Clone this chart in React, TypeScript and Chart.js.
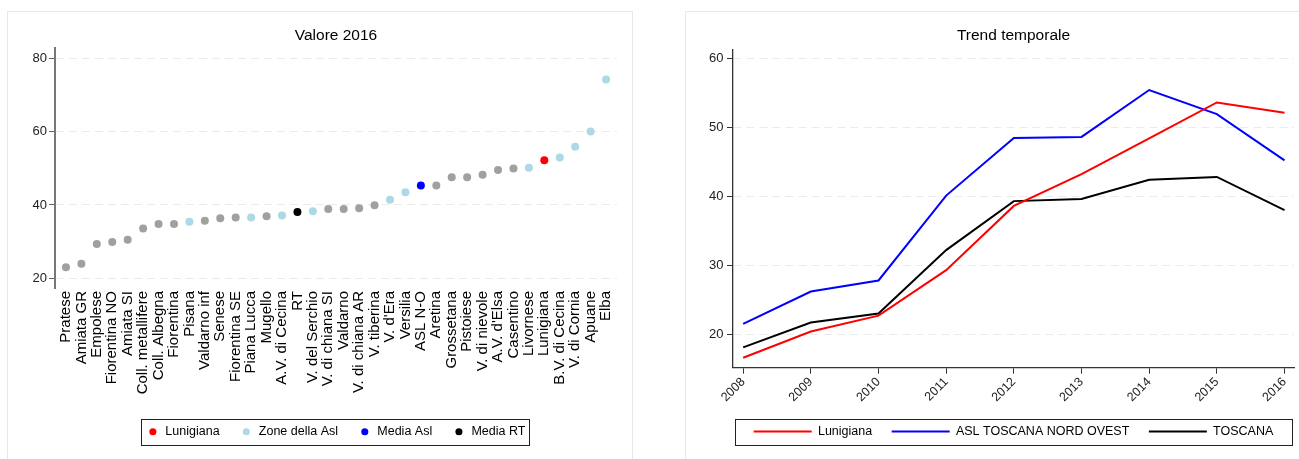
import React, { useEffect, useRef } from "react";
import { Chart, registerables } from "chart.js";

Chart.register(...registerables);
Chart.defaults.font.family = "'Liberation Sans', Arial, Helvetica, sans-serif";

// ---------- Left chart data: Valore 2016 ----------
const CATEGORIES = [
  "Pratese", "Amiata GR", "Empolese", "Fiorentina NO", "Amiata SI",
  "Coll. metallifere", "Coll. Albegna", "Fiorentina", "Pisana", "Valdarno inf",
  "Senese", "Fiorentina SE", "Piana Lucca", "Mugello", "A.V. di Cecina",
  "RT", "V. del Serchio", "V. di chiana SI", "Valdarno", "V. di chiana AR",
  "V. tiberina", "V. d'Era", "Versilia", "ASL N-O", "Aretina",
  "Grossetana", "Pistoiese", "V. di nievole", "A.V. d'Elsa", "Casentino",
  "Livornese", "Lunigiana", "B.V. di Cecina", "V. di Cornia", "Apuane", "Elba",
];
const VALUES_2016 = [
  23.0, 23.9, 29.3, 29.9, 30.5,
  33.6, 34.8, 34.8, 35.4, 35.7,
  36.4, 36.6, 36.6, 36.9, 37.1,
  38.1, 38.3, 38.9, 38.9, 39.1,
  39.9, 41.4, 43.5, 45.3, 45.3,
  47.6, 47.6, 48.3, 49.6, 50.0,
  50.2, 52.2, 53.0, 55.9, 60.1, 74.3,
];
const ASL_ZONES = [
  "Pisana", "Piana Lucca", "A.V. di Cecina", "V. del Serchio", "V. d'Era",
  "Versilia", "Livornese", "B.V. di Cecina", "V. di Cornia", "Apuane", "Elba",
];
const HIGHLIGHT_ZONE = "Lunigiana";
const MEDIA_ASL = "ASL N-O";
const MEDIA_RT = "RT";
const LEFT_Y_TICKS = [20, 40, 60, 80];

// ---------- Right chart data: Trend temporale ----------
const YEARS = [2008, 2009, 2010, 2011, 2012, 2013, 2014, 2015, 2016];
const TREND_LUNIGIANA = [16.6, 20.4, 22.7, 29.3, 38.6, 43.2, 48.4, 53.6, 52.1];
const TREND_ASL = [21.5, 26.2, 27.8, 40.1, 48.45, 48.6, 55.4, 51.9, 45.2];
const TREND_TOSCANA = [18.1, 21.7, 23.0, 32.2, 39.3, 39.6, 42.4, 42.8, 38.0];
const RIGHT_Y_TICKS = [20, 30, 40, 50, 60];

const legendFrame = {
  id: "legendFrame",
  afterDraw(chart: any, _args: any, opts: any) {
    const lg: any = chart.legend;
    if (!lg || !lg.legendHitBoxes || !lg.legendHitBoxes.length) return;
    const hb = lg.legendHitBoxes;
    const first = hb[0];
    const last = hb[hb.length - 1];
    const cy = first.top + first.height / 2;
    const x0 = Math.round(first.left - opts.padLeft) + 0.5;
    const x1 = Math.round(last.left + last.width + opts.padRight) + 0.5;
    const y0 = Math.round(cy - opts.halfHeight) + 0.5;
    const y1 = Math.round(cy + opts.halfHeight) + 0.5;
    const ctx = chart.ctx;
    ctx.save();
    ctx.strokeStyle = "#222";
    ctx.lineWidth = 1;
    ctx.strokeRect(x0, y0, x1 - x0, y1 - y0);
    ctx.restore();
  },
};

function groupPoints(pred: (name: string) => boolean) {
  return CATEGORIES.map((c, i) => ({ c, i }))
    .filter(({ c }) => pred(c))
    .map(({ i }) => ({ x: i, y: VALUES_2016[i] }));
}

function LeftChart() {
  const ref = useRef<HTMLCanvasElement>(null);
  useEffect(() => {
    const special = new Set([HIGHLIGHT_ZONE, MEDIA_ASL, MEDIA_RT, ...ASL_ZONES]);
    const mk = (label: string, color: string, data: any[]) => ({
      label,
      data,
      backgroundColor: color,
      borderColor: color,
      pointRadius: 4,
      pointBorderWidth: 0,
      borderWidth: 0,
      pointStyle: "circle",
    });
    const chart = new Chart(ref.current!, {
      type: "scatter",
      data: {
        datasets: [
          mk("Altre zone", "#a0a0a0", groupPoints((c) => !special.has(c))),
          mk("Lunigiana", "#ff0000", groupPoints((c) => c === HIGHLIGHT_ZONE)),
          mk("Zone della Asl", "#add8e6", groupPoints((c) => ASL_ZONES.includes(c))),
          mk("Media Asl", "#0000ff", groupPoints((c) => c === MEDIA_ASL)),
          mk("Media RT", "#000000", groupPoints((c) => c === MEDIA_RT)),
        ],
      },
      options: {
        responsive: false,
        animation: false,
        events: [],
        layout: { padding: { left: 0, right: 14, top: 0, bottom: 11 } },
        plugins: {
          tooltip: { enabled: false },
          title: {
            display: true,
            text: "Valore 2016",
            fullSize: false,
            color: "#000",
            font: { size: 15.5, weight: "normal" },
            padding: { top: 14.5, bottom: 3 },
          },
          legend: {
            position: "bottom",
            fullSize: false,
            labels: {
              usePointStyle: true,
              boxWidth: 13,
              boxHeight: 5,
              padding: 20.5,
              color: "#000",
              font: { size: 12.5 },
              filter: (item: any) => item.text !== "Altre zone",
            },
          },
          legendFrame: { padLeft: 5.5, padRight: 4, halfHeight: 13 },
        } as any,
        scales: {
          x: {
            type: "linear",
            min: -0.71,
            max: 35.71,
            bounds: "data",
            afterBuildTicks: (s: any) => {
              s.ticks = CATEGORIES.map((_, i) => ({ value: i }));
            },
            afterFit: (s: any) => {
              s.height = 117;
            },
            grid: { display: false, drawTicks: false },
            border: { display: false },
            ticks: {
              autoSkip: false,
              minRotation: 90,
              maxRotation: 90,
              padding: 3,
              color: "#000",
              font: { size: 15 },
              callback: (v: any) => CATEGORIES[v],
            },
          },
          y: {
            type: "linear",
            min: 17.3,
            max: 82.9,
            bounds: "data",
            afterBuildTicks: (s: any) => {
              s.ticks = LEFT_Y_TICKS.map((v) => ({ value: v }));
            },
            afterFit: (s: any) => {
              s.width = 47;
            },
            grid: {
              color: "#ebebeb",
              lineWidth: 1,
              tickColor: "#666",
              tickLength: 6,
              tickWidth: 1,
              tickBorderDash: [],
            },
            border: { display: true, color: "#777", width: 2, dash: [8, 5] },
            ticks: { padding: 2, color: "#222", font: { size: 13 } },
          },
        },
      },
      plugins: [legendFrame as any],
    } as any);
    return () => chart.destroy();
  }, []);
  return <canvas ref={ref} width={623} height={447} style={{ display: "block" }} />;
}

function RightChart() {
  const ref = useRef<HTMLCanvasElement>(null);
  useEffect(() => {
    const mk = (label: string, color: string, vals: number[]) => ({
      label,
      data: YEARS.map((y, i) => ({ x: y, y: vals[i] })),
      borderColor: color,
      backgroundColor: color,
      borderWidth: 2,
      pointRadius: 0,
      tension: 0,
      fill: false,
    });
    const chart = new Chart(ref.current!, {
      type: "line",
      data: {
        datasets: [
          mk("Lunigiana", "#ff0000", TREND_LUNIGIANA),
          mk("ASL TOSCANA NORD OVEST", "#0000ff", TREND_ASL),
          mk("TOSCANA", "#000000", TREND_TOSCANA),
        ],
      },
      options: {
        responsive: false,
        animation: false,
        events: [],
        layout: { padding: { left: 0, right: 5, top: 0, bottom: 11.25 } },
        plugins: {
          tooltip: { enabled: false },
          title: {
            display: true,
            text: "Trend temporale",
            fullSize: false,
            color: "#000",
            font: { size: 15.5, weight: "normal" },
            padding: { top: 14.5, bottom: 4.2 },
          },
          legend: {
            position: "bottom",
            fullSize: false,
            labels: {
              boxWidth: 58,
              boxHeight: 2,
              padding: 19.5,
              color: "#000",
              font: { size: 12.5 },
              generateLabels: (c: any) =>
                Chart.defaults.plugins.legend.labels
                  .generateLabels(c)
                  .map((l: any) => ({ ...l, fillStyle: l.strokeStyle, lineWidth: 0 })),
            },
          },
          legendFrame: { padLeft: 18.5, padRight: 18.5, halfHeight: 13 },
        } as any,
        scales: {
          x: {
            type: "linear",
            min: 2007.85,
            max: 2016.14,
            bounds: "data",
            afterBuildTicks: (s: any) => {
              s.ticks = YEARS.map((v) => ({ value: v }));
            },
            afterFit: (s: any) => {
              s.height = 38.05;
            },
            grid: {
              drawOnChartArea: false,
              drawTicks: true,
              tickLength: 6,
              tickColor: "#333",
              tickWidth: 1,
            },
            border: { display: true, color: "#333", width: 1.3 },
            ticks: {
              autoSkip: false,
              minRotation: 45,
              maxRotation: 45,
              padding: 1,
              color: "#222",
              font: { size: 12.5 },
              callback: (v: any) => String(v),
            },
          },
          y: {
            type: "linear",
            min: 15.16,
            max: 61.3,
            bounds: "data",
            afterBuildTicks: (s: any) => {
              s.ticks = RIGHT_Y_TICKS.map((v) => ({ value: v }));
            },
            afterFit: (s: any) => {
              s.width = 47;
            },
            grid: {
              color: "#ebebeb",
              lineWidth: 1,
              tickColor: "#333",
              tickLength: 6,
              tickWidth: 1,
              tickBorderDash: [],
            },
            border: { display: true, color: "#333", width: 1.3, dash: [8, 5] },
            ticks: { padding: 3.5, color: "#222", font: { size: 13 } },
          },
        },
      },
      plugins: [legendFrame as any],
    } as any);
    return () => chart.destroy();
  }, []);
  return <canvas ref={ref} width={613} height={447} style={{ display: "block" }} />;
}

export default function App() {
  const panel: React.CSSProperties = {
    position: "absolute",
    top: 11,
    width: 626,
    height: 460,
    boxSizing: "border-box",
    border: "1px solid #e2eaea",
    background: "#fff",
  };
  return (
    <div
      style={{
        position: "absolute",
        left: 0,
        top: 0,
        width: 1299,
        height: 459,
        overflow: "hidden",
        background: "#fff",
      }}
    >
      <div style={{ ...panel, left: 7 }}>
        <LeftChart />
      </div>
      <div style={{ ...panel, left: 685 }}>
        <RightChart />
      </div>
    </div>
  );
}
